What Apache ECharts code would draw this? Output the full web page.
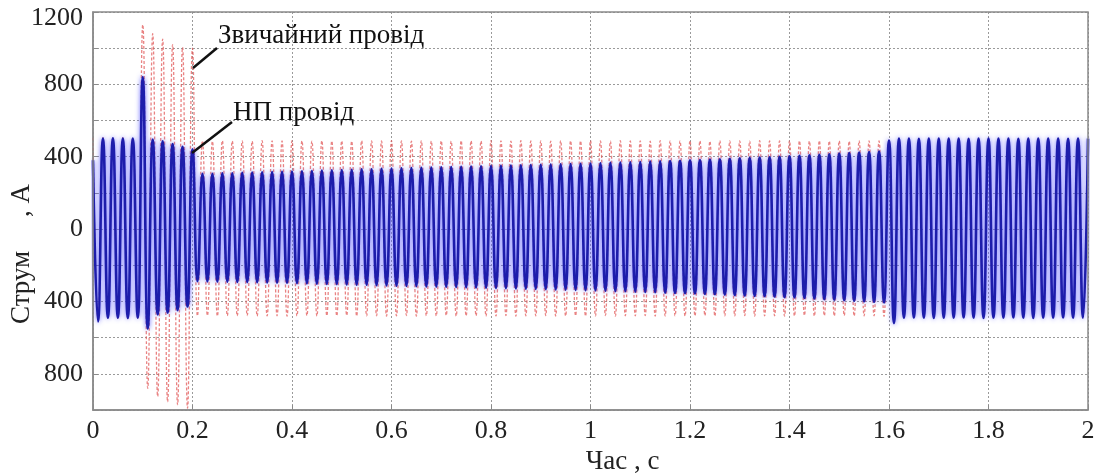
<!DOCTYPE html>
<html>
<head>
<meta charset="utf-8">
<script src="https://cdn.jsdelivr.net/npm/echarts@6/dist/echarts.min.js"></script>
<style>
html,body{margin:0;padding:0;background:#fff;}
#chart{width:1097px;height:475px;}
</style>
</head>
<body>
<div id="chart"></div>
<script>
// Half-period of the 50 Hz current: positive peaks at k*PERIOD, negative at k*PERIOD + PERIOD/2
const PERIOD = 0.02;

// x-axis ticks
const xTicks = [0, 0.2, 0.4, 0.6, 0.8, 1, 1.2, 1.4, 1.6, 1.8, 2];
// y-axis labelled ticks (signless, as in the original)
const yTicks = [-800, -400, 0, 400, 800, 1200];

const seriesNames = ['Звичайний провід', 'НП провід'];

// НП провід (blue) – positive peaks, t = 0, 0.02, ... 2.00
const bluePos = [
  380, 500, 502, 500, 501, 840, 495, 485, 470, 455, 440,
  305, 306, 308, 309, 311, 312, 314, 315, 317, 318,
  320, 321, 323, 325, 326, 328, 330, 331, 333, 335,
  336, 338, 339, 340, 342, 343, 344, 346, 347, 348,
  350, 351, 353, 354, 355, 357, 358, 360, 361, 362,
  364, 366, 368, 369, 371, 373, 375, 376, 378, 380,
  382, 384, 386, 388, 391, 393, 395, 397, 400, 402,
  405, 408, 411, 414, 417, 420, 423, 426, 428, 490,
  500, 501, 499, 500, 500, 501, 500, 499, 500, 501,
  500, 500, 499, 500, 501, 500, 500, 499, 500, 500
];
// НП провід (blue) – negative peaks, t = 0.01, 0.03, ... 1.99
const blueNeg = [
  -510, -490, -490, -491, -490, -550, -472, -462, -448, -428,
  -288, -289, -290, -291, -292, -293, -294, -295, -296, -297,
  -299, -300, -302, -303, -304, -306, -307, -308, -310, -311,
  -313, -314, -315, -317, -318, -319, -320, -322, -323, -324,
  -326, -327, -328, -330, -331, -332, -334, -335, -336, -338,
  -339, -341, -343, -344, -346, -348, -349, -351, -353, -354,
  -356, -358, -360, -362, -365, -367, -369, -371, -373, -376,
  -378, -381, -384, -387, -390, -393, -396, -399, -402, -405,
  -520, -490, -489, -490, -491, -490, -490, -489, -490, -491,
  -490, -490, -489, -490, -491, -490, -490, -489, -490, -490
];
// Звичайний провід (red) – positive peaks, t = 0, 0.02, ... 2.00
const redPos = [
  505, 505, 506, 505, 504, 1130, 1080, 1050, 1020, 1005, 1000,
  488, 486, 489, 487, 488, 486, 489, 488, 487, 489,
  488, 486, 489, 487, 488, 486, 489, 488, 487, 489,
  488, 486, 489, 487, 488, 486, 489, 488, 487, 489,
  488, 486, 489, 487, 488, 486, 489, 488, 487, 489,
  488, 486, 489, 487, 488, 486, 489, 488, 487, 489,
  488, 486, 489, 487, 488, 486, 489, 488, 487, 489,
  488, 486, 489, 487, 488, 486, 489, 488, 487, 492,
  495, 495, 494, 495, 495, 495, 494, 495, 495, 495,
  495, 494, 495, 495, 495, 494, 495, 495, 495, 495
];
// Звичайний провід (red) – negative peaks, t = 0.01, 0.03, ... 1.99
const redNeg = [
  -495, -495, -494, -495, -495, -880, -925, -955, -970, -990,
  -480, -478, -481, -479, -480, -478, -481, -480, -479, -481,
  -480, -478, -481, -479, -480, -478, -481, -480, -479, -481,
  -480, -478, -481, -479, -480, -478, -481, -480, -479, -481,
  -480, -478, -481, -479, -480, -478, -481, -480, -479, -481,
  -480, -478, -481, -479, -480, -478, -481, -480, -479, -481,
  -480, -478, -481, -479, -480, -478, -481, -480, -479, -481,
  -480, -478, -481, -479, -480, -478, -481, -480, -479, -482,
  -485, -485, -484, -485, -485, -485, -484, -485, -485, -485,
  -485, -484, -485, -485, -485, -484, -485, -485, -485, -485
];

function waveform(pos, neg) {
  const pts = [];
  for (let k = 0; k < pos.length; k++) {
    pts.push([+(k * PERIOD).toFixed(3), pos[k]]);
    if (k < neg.length) pts.push([+(k * PERIOD + PERIOD / 2).toFixed(3), neg[k]]);
  }
  return pts;
}

const FONT = '"Liberation Serif", "DejaVu Serif", serif';
const chart = echarts.init(document.getElementById('chart'), null, {renderer: 'canvas'});

chart.setOption({
  animation: false,
  backgroundColor: '#fff',
  grid: {left: 93, right: 9, top: 12, bottom: 65, show: false, containLabel: false, outerBoundsMode: 'none'},
  xAxis: {
    type: 'value', min: xTicks[0], max: xTicks[xTicks.length - 1], interval: 0.2,
    name: 'Час , с', nameLocation: 'middle', nameGap: 35,
    nameTextStyle: {fontFamily: FONT, fontSize: 27, color: '#222', padding: [0, 0, 0, 64]},
    axisLine: {show: true, onZero: false, lineStyle: {color: '#8a8a8a', width: 1.5}},
    axisTick: {show: true, inside: true, length: 5, lineStyle: {color: '#8a8a8a'}},
    axisLabel: {fontFamily: FONT, fontSize: 26, color: '#222', margin: 8,
      formatter: v => xTicks.some(t => Math.abs(t - v) < 1e-6) ? String(+v.toFixed(1)) : ''},
    splitLine: {show: true, lineStyle: {color: '#9a9a9a', type: [2, 2], width: 1}}
  },
  yAxis: {
    type: 'value', min: -1000, max: 1200, interval: 200,
    name: 'Струм     , А', nameLocation: 'middle', nameGap: 58, nameMoveOverlap: false,
    nameTextStyle: {fontFamily: FONT, fontSize: 27, color: '#222', padding: [0, 86, 0, 0]},
    axisLine: {show: true, onZero: false, lineStyle: {color: '#8a8a8a', width: 1.5}},
    axisTick: {show: true, inside: true, length: 5, lineStyle: {color: '#8a8a8a'}},
    axisLabel: {fontFamily: FONT, fontSize: 26, color: '#222', margin: 10,
      formatter: v => {
        if (!yTicks.includes(v)) return '';
        if (v === yTicks[yTicks.length - 1]) return '{t|' + v + '}';
        return String(Math.abs(v));
      },
      rich: {t: {fontFamily: FONT, fontSize: 26, color: '#222', padding: [12, 0, 0, 0]}}
    },
    splitLine: {show: true, lineStyle: {color: '#9a9a9a', type: [2, 2], width: 1}}
  },
  graphic: [
    {type: 'rect', z: 100, silent: true,
      shape: {x: 93, y: 12, width: 995, height: 398},
      style: {fill: 'none', stroke: '#8a8a8a', lineWidth: 1.5}},
    {type: 'text', z: 100, left: 218, top: 22,
      style: {text: seriesNames[0], font: '27px ' + FONT, fill: '#111'}},
    {type: 'line', z: 100, shape: {x1: 193, y1: 68, x2: 217, y2: 48},
      style: {stroke: '#111', lineWidth: 2.5}},
    {type: 'text', z: 100, left: 233, top: 99,
      style: {text: seriesNames[1], font: '27px ' + FONT, fill: '#111'}},
    {type: 'line', z: 100, shape: {x1: 192, y1: 153, x2: 232, y2: 122},
      style: {stroke: '#111', lineWidth: 2.5}}
  ],
  series: [
    {
      name: seriesNames[0], type: 'line', data: waveform(redPos, redNeg),
      showSymbol: false, smooth: 0.5, z: 2,
      lineStyle: {color: 'rgba(225,90,90,0.75)', width: 1.3, type: [3, 2]}
    },
    {
      name: seriesNames[1], type: 'line', data: waveform(bluePos, blueNeg),
      showSymbol: false, smooth: 0.5, z: 3,
      lineStyle: {color: '#1d1dab', width: 2.6, shadowColor: 'rgba(80,80,255,0.85)', shadowBlur: 5}
    }
  ]
});
</script>
</body>
</html>
